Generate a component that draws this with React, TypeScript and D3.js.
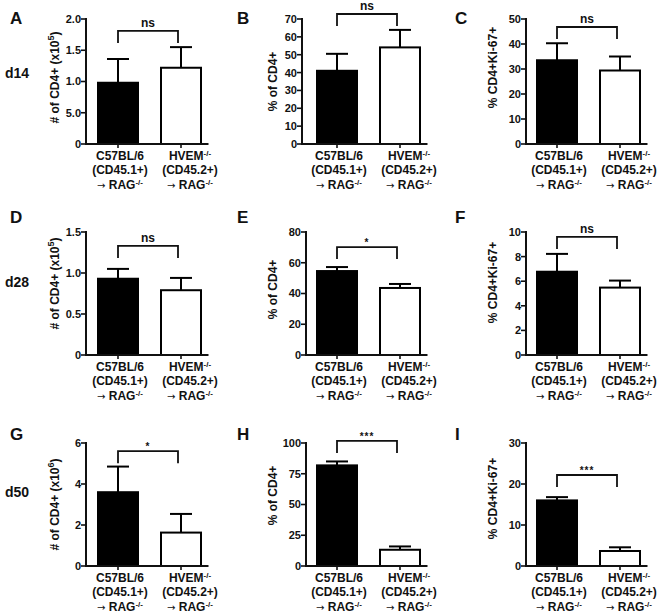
import React from "react";
import * as d3 from "d3";

// ---------- data ----------
const panelIds = ["A", "B", "C", "D", "E", "F", "G", "H", "I"];
const rowLabels = ["d14", "d28", "d50"];
const categories = ["C57BL/6", "HVEM"];
const wtMeans = [0.98, 41, 33.5, 0.93, 54.6, 6.77, 3.6, 81.8, 16.0];
const wtSem = [0.38, 9.5, 6.8, 0.12, 2.6, 1.45, 1.25, 3.2, 0.8];
const koMeans = [1.22, 54.1, 29.4, 0.79, 43.6, 5.48, 1.63, 13.2, 3.66];
const koSem = [0.33, 9.8, 5.6, 0.15, 2.6, 0.57, 0.91, 2.7, 0.9];
const bracketLevels = [1.81, 72.8, 46.8, 1.33, 70.2, 9.6, 5.6, 101.7, 22.2];
const sigLabels = ["ns", "ns", "ns", "ns", "*", "ns", "*", "***", "***"];
const yMaxes = [2, 70, 50, 1.5, 80, 10, 6, 100, 30];
const ySteps = [0.5, 10, 10, 0.5, 20, 2, 2, 25, 10];
const panelATickLabels = ["0", "5.0", "1.0", "1.5", "2.0"];
const yTitleKinds = ["count", "pct", "ki", "count", "pct", "ki", "count", "pct", "ki"];
const countExponents = [5, 0, 0, 5, 0, 0, 6, 0, 0];
const catLine1 = ["C57BL/6", "HVEM"];
const catLine2 = ["(CD45.1+)", "(CD45.2+)"];
const catLine3 = [" RAG", " RAG"];

// ---------- layout ----------
const W = 661;
const H = 615;
const rowTops = [19, 232, 443];
const rowZeros = [144, 355, 566];
const axisXs = [86, 302, 526, 86, 306, 526, 86, 306, 526];
const bandStarts = [86.5, 305.5, 525.5];
const titleBaselineX = [59, 277, 497];
const titleShift = [-4, 0, -14, -10, -4, -11, 0, -9, -6];
const letterX = [10, 237, 455];
const letterBaseline = [24, 223, 440];
const rowLabelBaseline = [78, 287, 497];
const labelOffsets = [2, 9];

const FONT = "'Liberation Sans', Arial, Helvetica, sans-serif";
const INK = "#111";

function YTitle({ kind, exp }: { kind: string; exp: number }) {
  if (kind === "count") {
    return (
      <>
        {"# of CD4+ (x10"}
        <tspan dy={-5} fontSize={9}>{exp}</tspan>
        <tspan dy={5}>{")"}</tspan>
      </>
    );
  }
  if (kind === "pct") return <>{"% of CD4+"}</>;
  return <>{"% CD4+Ki-67+"}</>;
}

function Panel({ i }: { i: number }) {
  const row = Math.floor(i / 3);
  const col = i % 3;
  const top = rowTops[row];
  const zero = rowZeros[row];
  const axisX = axisXs[i];
  const y = d3.scaleLinear().domain([0, yMaxes[i]]).range([zero, top]);
  const x = d3
    .scaleBand<string>()
    .domain(categories)
    .range([bandStarts[col], bandStarts[col] + 126])
    .paddingInner(1 / 3)
    .paddingOuter(1 / 6);
  const bw = x.bandwidth();
  const ticks = d3.range(0, yMaxes[i] + ySteps[i] / 2, ySteps[i]);
  const fmt = (v: number, k: number) => {
    if (i === 0) return panelATickLabels[k];
    if (v === 0) return "0";
    return ySteps[i] < 1 ? d3.format(".1f")(v) : d3.format("d")(v);
  };
  const means = [wtMeans[i], koMeans[i]];
  const sems = [wtSem[i], koSem[i]];
  const cx = categories.map((c) => (x(c) as number) + bw / 2);
  const by = y(bracketLevels[i]);
  const isStar = sigLabels[i] !== "ns";
  const xEnd = bandStarts[col] + 122;
  const mid = (top + zero) / 2 + titleShift[i];

  return (
    <g>
      <text x={letterX[col]} y={letterBaseline[row]} fontSize={17} fontWeight="bold" fill={INK}>
        {panelIds[i]}
      </text>
      <text
        transform={`translate(${titleBaselineX[col]},${mid}) rotate(-90)`}
        textAnchor="middle"
        fontSize={12}
        fontWeight="bold"
        fill={INK}
      >
        <YTitle kind={yTitleKinds[i]} exp={countExponents[i]} />
      </text>
      {categories.map((c, k) => (
        <rect
          key={c}
          x={(x(c) as number) + 1}
          y={y(means[k])}
          width={bw - 2}
          height={zero - y(means[k])}
          fill={k === 0 ? "#000" : "#fff"}
          stroke="#000"
          strokeWidth={2}
        />
      ))}
      {categories.map((c, k) => {
        const yt = y(means[k] + sems[k]);
        return (
          <g key={"e" + c} stroke="#000" strokeWidth={2}>
            <line x1={cx[k]} x2={cx[k]} y1={y(means[k])} y2={yt} />
            <line x1={cx[k] - 11} x2={cx[k] + 11} y1={yt} y2={yt} />
          </g>
        );
      })}
      <line x1={axisX} x2={axisX} y1={top - 1} y2={zero} stroke={INK} strokeWidth={2} />
      {ticks.map((t, k) => (
        <g key={"t" + k}>
          <line x1={axisX - 5} x2={axisX} y1={y(t)} y2={y(t)} stroke={INK} strokeWidth={1.6} />
          <text
            x={axisX - 5}
            y={y(t)}
            dy="0.36em"
            textAnchor="end"
            fontSize={11}
            fontWeight="bold"
            fill={INK}
          >
            {fmt(t, k)}
          </text>
        </g>
      ))}
      <line x1={axisX - 1} x2={xEnd} y1={zero} y2={zero} stroke={INK} strokeWidth={2} />
      {cx.map((v, k) => (
        <line key={"xt" + k} x1={v} x2={v} y1={zero} y2={zero + 4} stroke={INK} strokeWidth={1.6} />
      ))}
      {categories.map((c, k) => {
        const lx = cx[k] + labelOffsets[k];
        return (
          <g key={"l" + c} fontSize={12} fontWeight="bold" fill={INK}>
            <text x={lx} y={zero + 16} textAnchor="middle">
              {catLine1[k]}
              {k === 1 ? <tspan dy={-4} fontSize={8}>-/-</tspan> : null}
            </text>
            <text x={lx} y={zero + 30} textAnchor="middle">
              {catLine2[k]}
            </text>
            <text x={lx} y={zero + 45} textAnchor="middle">
              <tspan fontFamily="'DejaVu Sans', sans-serif" fontSize={10} fontWeight="normal">
                {"\u2192"}
              </tspan>
              {catLine3[k]}
              <tspan dy={-4} fontSize={8}>-/-</tspan>
            </text>
          </g>
        );
      })}
      <path
        d={`M${cx[0]},${by + 12}V${by}H${cx[1] - 3}V${by + 12}`}
        fill="none"
        stroke={INK}
        strokeWidth={1.8}
      />
      <text
        x={(cx[0] + cx[1] - 3) / 2}
        y={isStar ? by - 1 : by - 4}
        textAnchor="middle"
        fontSize={isStar ? 10 : 12}
        letterSpacing={isStar ? 1 : 0}
        fontWeight="bold"
        fill={INK}
      >
        {sigLabels[i]}
      </text>
    </g>
  );
}

export default function App() {
  return (
    <svg
      width={W}
      height={H}
      viewBox={`0 0 ${W} ${H}`}
      style={{ position: "absolute", left: 0, top: 0, background: "#fff", fontFamily: FONT }}
    >
      <rect width={W} height={H} fill="#fff" />
      {rowLabels.map((r, k) => (
        <text key={r} x={5} y={rowLabelBaseline[k]} fontSize={14} fontWeight="bold" fill={INK}>
          {r}
        </text>
      ))}
      {panelIds.map((p, i) => (
        <Panel key={p} i={i} />
      ))}
    </svg>
  );
}
